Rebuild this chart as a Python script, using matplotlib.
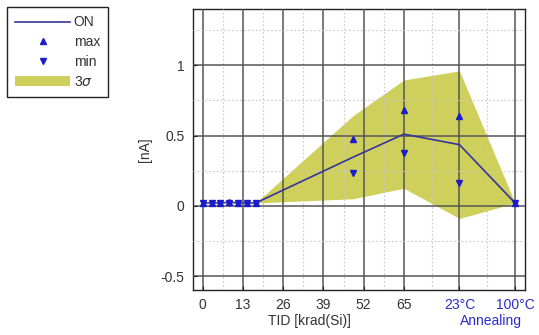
import matplotlib
matplotlib.use("Agg")
import matplotlib.pyplot as plt
import numpy as np
from matplotlib.lines import Line2D
from matplotlib.patches import Patch
from matplotlib.ticker import MultipleLocator, FixedLocator

plt.rcParams['font.family'] = ['Liberation Sans', 'DejaVu Sans']
plt.rcParams['font.size'] = 10
plt.rcParams['text.color'] = '#333333'
plt.rcParams['xtick.labelcolor'] = '#333333'
plt.rcParams['ytick.labelcolor'] = '#333333'
plt.rcParams['axes.labelcolor'] = '#333333'

# Dose / annealing steps
dose = [0, 2.9, 5.7, 8.6, 11.4, 14.3, 17.1, 48.5, 65, 83, 101]
# Mean leakage current "ON" [nA]
mean_on = [0.02, 0.02, 0.02, 0.025, 0.02, 0.02, 0.02, 0.345, 0.51, 0.435, 0.02]
# 3-sigma spread [nA]
three_sigma = [0.0, 0.0, 0.0, 0.0, 0.0, 0.0, 0.0, 0.295, 0.385, 0.525, 0.0]
# Extremes
max_vals = [0.02, 0.02, 0.02, 0.03, 0.02, 0.02, 0.02, 0.475, 0.685, 0.64, 0.02]
min_vals = [0.02, 0.02, 0.02, 0.02, 0.02, 0.02, 0.02, 0.23, 0.375, 0.16, 0.02]

tick_pos = [0, 13, 26, 39, 52, 65, 83, 101]
tick_labels = ["0", "13", "26", "39", "52", "65", "23°C", "100°C"]
minor_pos = [6.5, 19.5, 32.5, 45.5, 58.5, 74, 92]

blue_text = "#2b2bcc"
line_col = "#35359a"
marker_col = "#1c1cc8"
fill_col = "#cfcf5c"

fig = plt.figure(figsize=(5.39, 3.35), dpi=100)
ax = fig.add_axes([0.358, 0.134, 0.616, 0.839])

m = np.array(mean_on)
s = np.array(three_sigma)
ax.fill_between(dose, m - s, m + s, color=fill_col, linewidth=0, zorder=1)
ax.plot(dose, mean_on, color=line_col, lw=1.2, zorder=3)
ax.plot(dose, max_vals, linestyle='none', marker='^', ms=4.5, color=marker_col, zorder=4)
ax.plot(dose, min_vals, linestyle='none', marker='v', ms=4.5, color=marker_col, zorder=4)

ax.set_xlim(-3.2, 104.2)
ax.set_ylim(-0.6, 1.4)
ax.xaxis.set_major_locator(FixedLocator(tick_pos))
ax.xaxis.set_minor_locator(FixedLocator(minor_pos))
ax.set_xticklabels(tick_labels)
for lbl in ax.get_xticklabels()[6:]:
    lbl.set_color(blue_text)
ax.yaxis.set_major_locator(FixedLocator([-0.5, 0, 0.5, 1]))
ax.set_yticklabels(["-0.5", "0", "0.5", "1"])
ax.yaxis.set_minor_locator(MultipleLocator(0.25))

ax.grid(which='major', color='#555555', lw=1.1, zorder=2)
ax.grid(which='minor', color='#c8c8c8', lw=0.8, linestyle=(0, (1.5, 2)), zorder=2)
ax.set_axisbelow(False)
for sp in ax.spines.values():
    sp.set_color('#222222')
    sp.set_linewidth(1.0)
ax.tick_params(which='major', direction='in', length=3, color='#222222', pad=6)
ax.tick_params(which='minor', length=0)

ax.set_ylabel("[nA]", labelpad=6)
fig.text(0.575, 0.02, "TID [krad(Si)]", ha='center', va='bottom')
fig.text(0.91, 0.02, "Annealing", ha='center', va='bottom', color=blue_text)

handles = [
    Line2D([], [], color=line_col, lw=1.2),
    Line2D([], [], linestyle='none', marker='^', ms=4.5, color=marker_col),
    Line2D([], [], linestyle='none', marker='v', ms=4.5, color=marker_col),
    Patch(facecolor=fill_col, edgecolor='none'),
]
leg = fig.legend(handles, ["ON", "max", "min", r"3$\sigma$"],
                 loc='upper left', bbox_to_anchor=(0.013, 0.979),
                 fancybox=False, edgecolor='#222222', framealpha=1,
                 handlelength=3.95, handletextpad=0.25, borderpad=0.6,
                 labelspacing=0.42, borderaxespad=0)
leg.get_frame().set_linewidth(1.0)

fig.savefig("out.png", dpi=100)
